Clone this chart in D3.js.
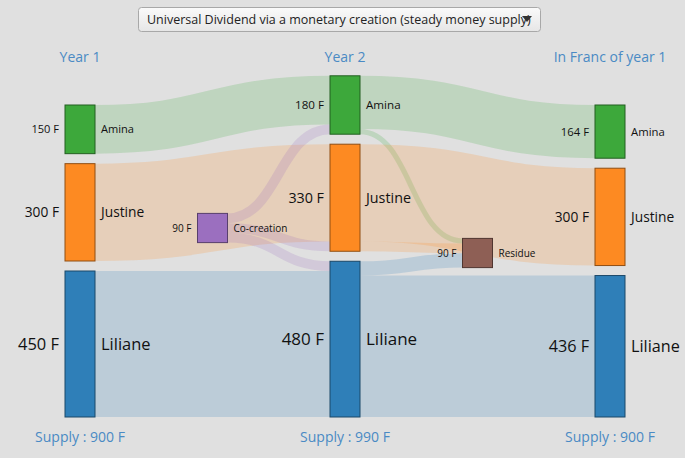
<!DOCTYPE html>
<html><head><meta charset="utf-8">
<script src="https://cdn.jsdelivr.net/npm/d3@7"></script>
<style>body{margin:0;background:#e0e0e0;font-family:"Open Sans",sans-serif;}</style>
</head><body>
<svg id="c" width="685" height="458"></svg>
<script>
const nodeNames = ["Amina1","Justine1","Liliane1","Cocreation","Amina2","Justine2","Liliane2","Residue","Amina3","Justine3","Liliane3"];
const nodeLabels = ["Amina","Justine","Liliane","Co-creation","Amina","Justine","Liliane","Residue","Amina","Justine","Liliane"];
const nodeValues = [150,300,450,90,180,330,480,90,164,300,436];
const nodeColumns = [0,0,0,0.5,1,1,1,1.5,2,2,2];
const nodePerson = ["A","J","L","C","A","J","L","R","A","J","L"];
const linkSource = ["Amina1","Justine1","Liliane1","Cocreation","Cocreation","Cocreation","Amina2","Amina2","Justine2","Justine2","Liliane2","Liliane2"];
const linkTarget = ["Amina2","Justine2","Liliane2","Amina2","Justine2","Liliane2","Amina3","Residue","Justine3","Residue","Liliane3","Residue"];
const linkValues = [150,300,450,30,30,30,164,16,300,30,436,44];
const columnTitles = ["Year 1","Year 2","In Franc of year 1"];
const supplyLabels = ["Supply : 900 F","Supply : 990 F","Supply : 900 F"];
const floatingCenters = {Cocreation:228, Residue:253};

const colors = {A:"#3da83b",J:"#fd8a22",L:"#2f7fb8",C:"#9b6fbf",R:"#8e5f55"};
const svg = d3.select("#c");
const x = d3.scaleLinear().domain([0,2]).range([65,595]);
const k = d3.scaleLinear().domain([0,450]).range([0,146]);
const fs = d3.scaleLinear().domain([90,480]).range([10,17]);
const W = 30, bottom = 417, pad = 10;

const nodes = nodeNames.map((n,i)=>({id:n,label:nodeLabels[i],value:nodeValues[i],col:nodeColumns[i],p:nodePerson[i],h:k(nodeValues[i]),ins:[],outs:[]}));
const byId = Object.fromEntries(nodes.map(n=>[n.id,n]));
[0,1,2].forEach(c=>{
  let yb = bottom;
  nodes.filter(n=>n.col===c).reverse().forEach(n=>{n.y1=yb;n.y0=yb-n.h;yb=n.y0-pad;});
});
nodes.filter(n=>floatingCenters[n.id]).forEach(n=>{n.y0=floatingCenters[n.id]-n.h/2;n.y1=n.y0+n.h;});
nodes.forEach(n=>{n.x0=x(n.col);n.cy=(n.y0+n.y1)/2;});
const links = linkValues.map((v,i)=>({s:byId[linkSource[i]],t:byId[linkTarget[i]],v,w:k(v)}));
links.forEach(l=>{l.s.outs.push(l);l.t.ins.push(l);});
nodes.forEach(n=>{
  let o=n.y0; n.outs.sort((a,b)=>a.t.cy-b.t.cy).forEach(l=>{l.sy=o+l.w/2;o+=l.w;});
  o=n.y0; n.ins.sort((a,b)=>a.s.cy-b.s.cy).forEach(l=>{l.ty=o+l.w/2;o+=l.w;});
});
const lg = d3.linkHorizontal();
svg.append("g").selectAll("path").data(links).join("path")
  .attr("d",l=>lg({source:[l.s.x0+W,l.sy],target:[l.t.x0,l.ty]}))
  .attr("fill","none").attr("stroke",l=>colors[l.s.p]).attr("stroke-opacity",0.2)
  .attr("stroke-width",l=>l.w);
const ng = svg.append("g").selectAll("g").data(nodes).join("g");
ng.append("rect").attr("x",n=>n.x0).attr("y",n=>n.y0).attr("width",W).attr("height",n=>n.h)
  .attr("fill",n=>colors[n.p]).attr("stroke",n=>d3.color(colors[n.p]).darker(1.6));
ng.append("text").attr("x",n=>n.x0-6).attr("y",n=>n.cy).attr("dy","0.35em").attr("text-anchor","end")
  .attr("font-size",n=>fs(n.value)).attr("fill","#111").text(n=>n.value+" F");
ng.append("text").attr("x",n=>n.x0+W+6).attr("y",n=>n.cy).attr("dy","0.35em")
  .attr("font-size",n=>fs(n.value)).attr("fill","#111").text(n=>n.label);
svg.append("g").selectAll("text").data(columnTitles).join("text")
  .attr("x",(d,i)=>x(i)+W/2).attr("y",62).attr("text-anchor","middle").attr("font-size",14).attr("fill","#4a8ac4").text(d=>d);
svg.append("g").selectAll("text").data(supplyLabels).join("text")
  .attr("x",(d,i)=>x(i)+W/2).attr("y",442).attr("text-anchor","middle").attr("font-size",14).attr("fill","#4a8ac4").text(d=>d);
// dropdown
const grad = svg.append("defs").append("linearGradient").attr("id","g").attr("x2",0).attr("y2",1);
grad.append("stop").attr("offset",0).attr("stop-color","#fafafa");
grad.append("stop").attr("offset",1).attr("stop-color","#e6e6e6");
svg.append("rect").attr("x",138.5).attr("y",7.5).attr("width",402).attr("height",24).attr("rx",3)
  .attr("fill","url(#g)").attr("stroke","#a8a8a8");
svg.append("text").attr("x",147).attr("y",24).attr("font-size",12.5).attr("fill","#222")
  .text("Universal Dividend via a monetary creation (steady money supply)");
svg.append("path").attr("d","M522,16 L532,16 L527,22 Z").attr("fill","#333");
</script>
</body></html>
